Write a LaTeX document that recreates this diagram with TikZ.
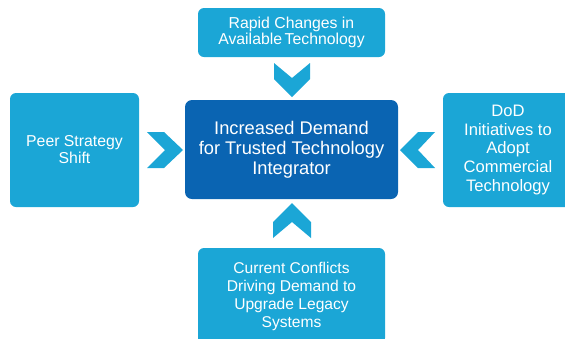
\documentclass[tikz,border=0pt]{standalone}
\usepackage{fontspec}
\setmainfont{Liberation Sans}
\definecolor{boxlight}{RGB}{27,166,214}
\definecolor{boxdark}{RGB}{10,100,178}
\begin{document}
\begin{tikzpicture}[x=1pt,y=-1pt,
  driver/.style={fill=boxlight, rounded corners=6pt, text=white, align=center,
    inner sep=0pt, font=\fontsize{15.6}{18}\selectfont},
  hub/.style={fill=boxdark, rounded corners=7pt, text=white, align=center,
    inner sep=0pt, font=\fontsize{18.3}{19.8}\selectfont},
  chev/.style={fill=boxlight}]
\useasboundingbox (0,0) rectangle (565,338);

% central box
\node[hub, minimum width=213pt, minimum height=99pt] (hub) at (291.5,149.5)
  {Increased Demand\\for Trusted Technology\\Integrator};

% surrounding drivers
\node[driver, minimum width=187pt, minimum height=49pt,
  font=\fontsize{15.8}{15.5}\selectfont] (top) at (291.5,32.5)
  {Rapid Changes in\\Available\,Technology};
\node[driver, minimum width=129pt, minimum height=114pt,
  font=\fontsize{15.8}{17}\selectfont] (left) at (74.5,150)
  {Peer Strategy\\Shift};
\node[driver, minimum width=130pt, minimum height=114pt,
  font=\fontsize{16.6}{18.6}\selectfont] (right) at (508,150)
  {DoD\\Initiatives to\\Adopt\\Commercial\\Technology};
\node[driver, minimum width=187pt, minimum height=96pt] (bottom) at (291.5,296)
  {Current Conflicts\\Driving Demand to\\Upgrade Legacy\\Systems};

% chevrons pointing into the central box
\fill[chev] (274,63) -- (292,78) -- (310,63) -- (310,79) -- (292,97) -- (274,79) -- cycle;
\fill[chev] (147,132) -- (164,132) -- (183,150) -- (164,168) -- (147,168) -- (165,150) -- cycle;
\fill[chev] (435,132) -- (418,132) -- (400,150) -- (418,168) -- (435,168) -- (418,150) -- cycle;
\fill[chev] (292,203) -- (311,222) -- (311,238) -- (292,222) -- (273,238) -- (273,222) -- cycle;
\end{tikzpicture}
\end{document}
